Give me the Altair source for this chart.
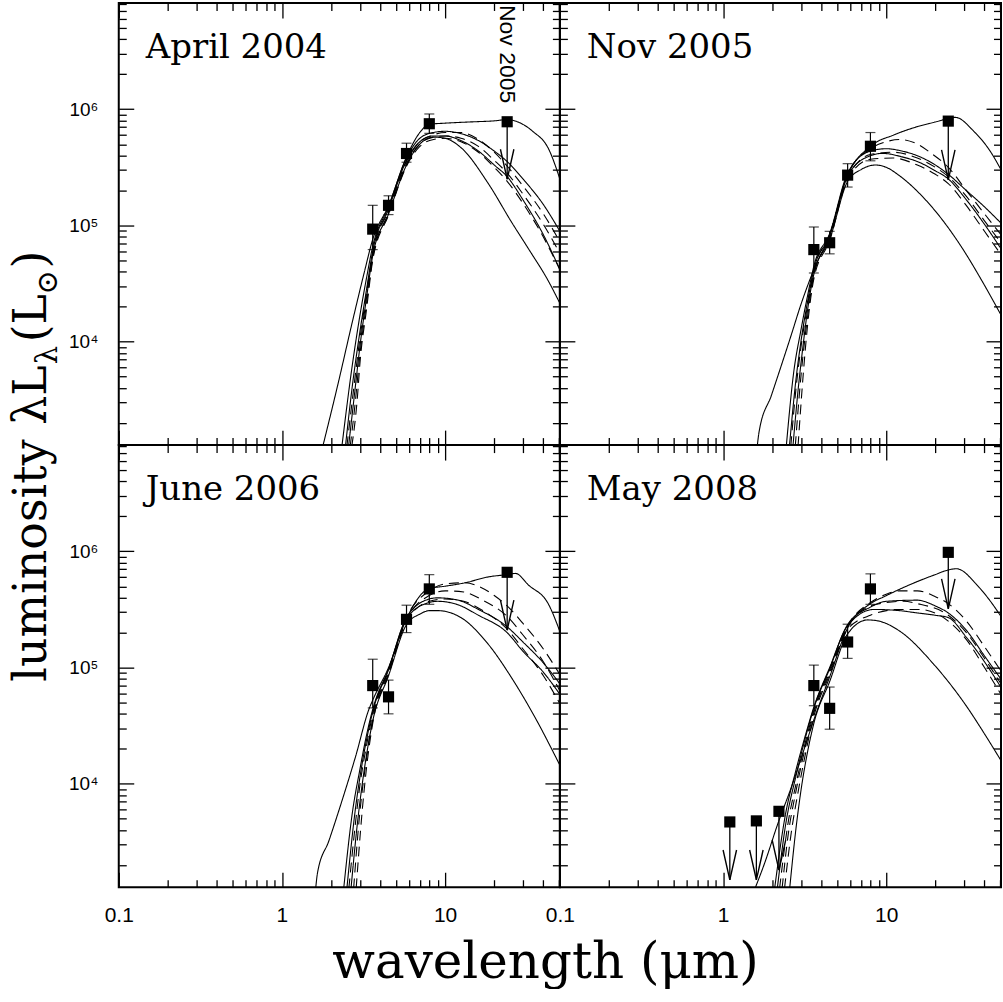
import altair as alt
import pandas as pd

# ---------------- layout ----------------
W, H = 442, 443
X_DOMAIN = [0.1, 50.5]
Y_DOMAIN = [1.29e3, 8.2e6]

PANELS = ["April 2004", "Nov 2005", "June 2006", "May 2008"]

# ---------------- photometry ----------------
IRAC_LAM = [3.6, 4.5, 5.8, 8.0]
DET_L = [
    [9.3e4, 1.49e5, 4.16e5, 7.5e5],
    [6.2e4, 7.1e4, 2.71e5, 4.8e5],
    [7.0e4, 5.6e4, 2.6e5, 4.75e5],
    [7.0e4, 4.46e4, 1.66e5, 4.75e5],
]
DET_LO = [
    [6.2e4, 1.24e5, 3.5e5, 6.2e5],
    [3.9e4, 5.7e4, 2.14e5, 3.6e5],
    [4.5e4, 4.0e4, 2.0e5, 3.5e5],
    [4.7e4, 2.95e4, 1.2e5, 3.5e5],
]
DET_HI = [
    [1.49e5, 1.8e5, 5.1e5, 9.1e5],
    [9.7e4, 8.9e4, 3.4e5, 6.3e5],
    [1.18e5, 7.8e4, 3.44e5, 6.3e5],
    [1.05e5, 6.8e4, 2.36e5, 6.4e5],
]
LIM_LAM = [[24.0], [24.0], [24.0], [1.1, 1.6, 2.2, 24.0]]
LIM_L = [[7.8e5], [7.9e5], [6.6e5], [4.7e3, 4.8e3, 5.8e3, 9.8e5]]
LIM_TIP = [[2.5e5], [2.47e5], [2.1e5], [1.49e3, 1.49e3, 1.81e3, 3.2e5]]

NOTE_TEXT = ["Nov 2005"]
NOTE_LAM = [24.0]

# y-axis title pieces (main text and subscripts)
YT_TEXT = ["luminosity λL", "λ", "(L", "⊙", ")"]
YT_SIZE = [46, 29, 46, 29, 46]
YT_X = [-73, -62, -73, -62, -73]
YT_Y = [680, 362, 340, 292, 266]

# ---------------- model curves: (style, wavelength, log10 L) ----------------
APR04 = {
    "A": ("solid", [1.78, 2.2, 2.7, 3.2, 3.6, 4.5, 5.8, 7.0, 8.0, 10, 14, 20, 24, 28, 34.4, 43, 50.5],
          [3.10, 3.63, 4.17, 4.60, 4.88, 5.17, 5.59, 5.80, 5.87, 5.88, 5.89, 5.90, 5.91, 5.89, 5.81, 5.66, 5.40]),
    "B": ("solid", [2.33, 2.7, 3.0, 3.3, 3.6, 4.5, 5.8, 7.0, 8.5, 10, 12.5, 16, 20, 24, 30, 40, 50.5],
          [3.10, 3.80, 4.22, 4.55, 4.82, 5.16, 5.58, 5.75, 5.80, 5.81, 5.79, 5.73, 5.64, 5.55, 5.40, 5.18, 4.95]),
    "C": ("solid", [2.45, 2.7, 3.0, 3.3, 3.6, 4.5, 5.8, 7.0, 8.5, 10, 12.5, 16, 20, 24, 30, 40, 50.5],
          [3.10, 3.62, 4.08, 4.45, 4.78, 5.14, 5.56, 5.72, 5.77, 5.77, 5.73, 5.64, 5.52, 5.42, 5.22, 4.92, 4.62]),
    "D": ("solid", [2.56, 2.8, 3.0, 3.3, 3.6, 4.5, 5.8, 7.0, 8.5, 10, 12.5, 18.4, 25.5, 32.4, 43, 50.5],
          [3.10, 3.58, 3.95, 4.38, 4.74, 5.10, 5.52, 5.70, 5.76, 5.75, 5.67, 5.36, 5.03, 4.80, 4.52, 4.33]),
    "E": ("dashed", [2.5, 2.7, 3.0, 3.3, 3.6, 4.5, 5.8, 7.0, 8.5, 10, 12.5, 16, 20, 24, 30, 40, 50.5],
          [3.10, 3.50, 4.02, 4.42, 4.76, 5.13, 5.55, 5.72, 5.78, 5.80, 5.80, 5.74, 5.63, 5.51, 5.34, 5.10, 4.86]),
    "F": ("dashed", [2.62, 2.8, 3.0, 3.3, 3.6, 4.5, 5.8, 7.0, 8.5, 10, 12.5, 16, 20, 24, 30, 40, 50.5],
          [3.10, 3.45, 3.88, 4.33, 4.72, 5.11, 5.53, 5.70, 5.76, 5.77, 5.75, 5.68, 5.56, 5.45, 5.27, 5.01, 4.76]),
    "G": ("dashed", [2.68, 2.9, 3.0, 3.3, 3.6, 4.5, 5.8, 7.0, 8.5, 10, 12.5, 16, 20, 24, 30, 40, 50.5],
          [3.10, 3.52, 3.80, 4.28, 4.70, 5.09, 5.51, 5.68, 5.74, 5.75, 5.72, 5.63, 5.50, 5.38, 5.19, 4.90, 4.62]),
}
NOV05 = {
    "A": ("solid", [1.62, 1.66, 1.98, 2.62, 3.0, 3.6, 4.5, 5.8, 8.0, 11.2, 15.5, 20, 24, 26.5, 34.4, 43.3, 50.5],
          [3.10, 3.22, 3.54, 4.06, 4.32, 4.62, 4.92, 5.43, 5.68, 5.78, 5.85, 5.89, 5.92, 5.93, 5.81, 5.64, 5.48]),
    "B": ("solid", [2.44, 2.7, 3.0, 3.3, 3.6, 4.5, 5.8, 8.0, 10, 12.5, 15.5, 20, 24, 31, 40, 50.5],
          [3.10, 3.72, 4.10, 4.40, 4.65, 4.93, 5.45, 5.64, 5.66, 5.64, 5.60, 5.52, 5.44, 5.30, 5.16, 5.02]),
    "C": ("solid", [2.55, 2.8, 3.0, 3.3, 3.6, 4.5, 5.8, 8.0, 9.5, 12.5, 15.5, 20, 24, 31, 40, 50.5],
          [3.10, 3.68, 4.00, 4.35, 4.62, 4.91, 5.43, 5.60, 5.62, 5.59, 5.55, 5.47, 5.40, 5.22, 5.01, 4.80]),
    "D": ("solid", [2.68, 2.9, 3.1, 3.3, 3.6, 4.5, 5.8, 7.0, 8.6, 10, 12, 16.9, 24, 30, 38, 50.5],
          [3.10, 3.62, 3.98, 4.28, 4.58, 4.88, 5.38, 5.48, 5.52, 5.50, 5.43, 5.24, 4.98, 4.78, 4.54, 4.23]),
    "E": ("dashed", [2.6, 2.8, 3.0, 3.3, 3.6, 4.5, 5.8, 8.0, 10, 12, 15.5, 18.9, 24, 31, 40, 50.5],
          [3.10, 3.60, 3.95, 4.32, 4.61, 4.92, 5.44, 5.66, 5.72, 5.74, 5.70, 5.62, 5.50, 5.30, 5.10, 4.92]),
    "F": ("dashed", [2.77, 3.0, 3.3, 3.6, 4.5, 5.8, 8.0, 11, 15.5, 20, 24, 31, 40, 50.5],
          [3.10, 3.70, 4.22, 4.57, 4.89, 5.41, 5.61, 5.63, 5.58, 5.50, 5.42, 5.25, 5.04, 4.85]),
    "G": ("dashed", [2.88, 3.1, 3.3, 3.6, 4.5, 5.8, 8.0, 11, 15.5, 20, 24, 31, 40, 50.5],
          [3.10, 3.72, 4.15, 4.54, 4.87, 5.40, 5.57, 5.58, 5.52, 5.44, 5.36, 5.17, 4.95, 4.75]),
}
JUN06 = {
    "A": ("solid", [1.61, 1.65, 1.94, 2.34, 2.82, 3.41, 3.6, 4.5, 5.8, 8.0, 10, 13.3, 18.4, 24, 27, 32.4, 43, 50.5],
          [3.10, 3.23, 3.51, 3.86, 4.23, 4.64, 4.72, 5.00, 5.42, 5.68, 5.70, 5.73, 5.78, 5.80, 5.81, 5.71, 5.545, 5.31]),
    "B": ("solid", [2.39, 2.7, 3.0, 3.3, 3.6, 4.5, 5.8, 8.0, 9, 12, 16, 24, 30, 40, 50.5],
          [3.10, 3.75, 4.12, 4.42, 4.64, 4.99, 5.43, 5.59, 5.60, 5.58, 5.50, 5.35, 5.22, 5.04, 4.86]),
    "C": ("solid", [2.5, 2.8, 3.0, 3.3, 3.6, 4.5, 5.8, 8.0, 9, 12, 16, 24, 30, 40, 50.5],
          [3.10, 3.75, 4.05, 4.38, 4.62, 4.98, 5.42, 5.56, 5.57, 5.54, 5.45, 5.30, 5.14, 4.96, 4.77]),
    "D": ("solid", [2.65, 2.9, 3.1, 3.3, 3.6, 4.5, 5.8, 7.0, 8.0, 9, 12.5, 18.4, 25.6, 35.6, 50.5],
          [3.10, 3.66, 3.99, 4.25, 4.54, 4.93, 5.37, 5.46, 5.49, 5.49, 5.43, 5.20, 4.91, 4.57, 4.16]),
    "E": ("dashed", [2.57, 2.8, 3.0, 3.3, 3.6, 4.5, 5.8, 8.0, 10, 13.3, 16, 20, 24, 30, 40, 50.5],
          [3.10, 3.62, 3.98, 4.33, 4.60, 4.97, 5.43, 5.66, 5.72, 5.73, 5.70, 5.62, 5.53, 5.38, 5.16, 4.94]),
    "F": ("dashed", [2.75, 3.0, 3.3, 3.6, 4.5, 5.8, 8.0, 10, 13, 17, 24, 30, 40, 50.5],
          [3.10, 3.75, 4.22, 4.56, 4.95, 5.41, 5.62, 5.66, 5.65, 5.58, 5.44, 5.28, 5.05, 4.80]),
    "G": ("dashed", [2.85, 3.1, 3.3, 3.6, 4.5, 5.8, 8.0, 10, 13, 17, 24, 30, 40, 50.5],
          [3.10, 3.76, 4.14, 4.52, 4.94, 5.40, 5.57, 5.59, 5.57, 5.49, 5.33, 5.16, 4.93, 4.69]),
}
MAY08 = {
    "A": ("solid", [1.57, 1.80, 2.17, 2.62, 3.16, 3.6, 4.5, 5.8, 8.0, 9.7, 15.5, 20, 24, 27, 36, 43, 50.5],
          [3.10, 3.32, 3.66, 3.97, 4.31, 4.55, 4.92, 5.34, 5.55, 5.61, 5.74, 5.80, 5.84, 5.85, 5.71, 5.58, 5.44]),
    "B": ("solid", [2.07, 2.4, 2.8, 3.2, 3.6, 4.5, 5.8, 8.4, 12, 15.5, 20, 24, 31, 40, 50.5],
          [3.10, 3.72, 4.12, 4.42, 4.66, 5.00, 5.36, 5.50, 5.49, 5.47, 5.45, 5.43, 5.26, 5.05, 4.83]),
    "C": ("solid", [2.15, 2.4, 2.8, 3.2, 3.6, 4.5, 5.8, 8.0, 10, 15.5, 20, 24, 31, 40, 50.5],
          [3.10, 3.62, 4.07, 4.40, 4.65, 4.99, 5.37, 5.52, 5.57, 5.58, 5.53, 5.47, 5.32, 5.10, 4.90]),
    "D": ("solid", [2.56, 2.8, 3.0, 3.3, 3.6, 4.5, 5.8, 7.7, 9, 12.2, 19.5, 31.3, 40, 50.5],
          [3.10, 3.62, 3.94, 4.28, 4.52, 4.88, 5.29, 5.41, 5.40, 5.31, 5.03, 4.66, 4.43, 4.20]),
    "E": ("dashed", [2.22, 2.5, 2.8, 3.2, 3.6, 4.5, 5.8, 8.0, 10, 12, 15.5, 20, 24, 31, 40, 50.5],
          [3.10, 3.66, 4.00, 4.36, 4.63, 4.98, 5.36, 5.56, 5.63, 5.66, 5.66, 5.61, 5.55, 5.40, 5.18, 4.97]),
    "F": ("dashed", [2.30, 2.5, 2.8, 3.2, 3.6, 4.5, 5.8, 8.0, 9.1, 12.8, 15.5, 24, 31, 40, 50.5],
          [3.10, 3.55, 3.94, 4.32, 4.61, 4.96, 5.35, 5.53, 5.55, 5.57, 5.55, 5.45, 5.30, 5.08, 4.86]),
    "G": ("dashed", [2.38, 2.6, 2.9, 3.2, 3.6, 4.5, 5.8, 8.0, 12, 16, 24, 31, 40, 50.5],
          [3.10, 3.55, 3.95, 4.26, 4.58, 4.94, 5.33, 5.45, 5.50, 5.50, 5.40, 5.24, 5.00, 4.77]),
}
CURVE_SETS = [APR04, NOV05, JUN06, MAY08]

# ---------------- ticks ----------------
X_MAJOR = [0.1, 1, 10]
X_MINOR = [0.2, 0.3, 0.4, 0.5, 0.6, 0.7, 0.8, 0.9, 2, 3, 4, 5, 6, 7, 8, 9, 20, 30, 40, 50]
Y_MAJOR = [1e4, 1e5, 1e6]
Y_MINOR = [2e3, 3e3, 4e3, 5e3, 6e3, 7e3, 8e3, 9e3,
           2e4, 3e4, 4e4, 5e4, 6e4, 7e4, 8e4, 9e4,
           2e5, 3e5, 4e5, 5e5, 6e5, 7e5, 8e5, 9e5,
           2e6, 3e6, 4e6, 5e6, 6e6, 7e6, 8e6]

ARROW_PATH = "M -0.45 -2 L 0 0 L 0.45 -2"
SERIF = "DejaVu Serif"
SANS = "Liberation Sans"

# ---------------- build tables ----------------
crow = []
for pname, cset in zip(PANELS, CURVE_SETS):
    for cname, (style, lams, logls) in cset.items():
        for lam, lg in zip(lams, logls):
            crow.append({"panel": pname, "curve": cname, "style": style, "lam": lam, "L": 10 ** lg})
curves_df = pd.DataFrame(crow)


def panel(i, xlabels, ylabels, xtitle, ytitle):
    pname = PANELS[i]
    xs = alt.Scale(type="log", domain=X_DOMAIN, nice=False)
    ys = alt.Scale(type="log", domain=Y_DOMAIN, nice=False)
    X = lambda f="lam:Q", ax=None: alt.X(f, scale=xs, axis=ax)

    cdf = curves_df[curves_df.panel == pname]
    ddf = pd.DataFrame({"lam": IRAC_LAM, "L": DET_L[i], "lo": DET_LO[i], "hi": DET_HI[i]})
    capdf = pd.DataFrame({"lam": IRAC_LAM * 2, "v": DET_LO[i] + DET_HI[i]})
    ldf = pd.DataFrame({"lam": LIM_LAM[i], "L": LIM_L[i], "tip": LIM_TIP[i]})

    lines = alt.Chart(cdf).mark_line(clip=True, color="black", strokeWidth=1.1, interpolate="monotone").encode(
        x=X(), y=alt.Y("L:Q", scale=ys, axis=None), detail="curve:N",
        strokeDash=alt.StrokeDash("style:N", scale=alt.Scale(domain=["solid", "dashed"], range=[[1, 0], [10, 6]]),
                                  legend=None))
    err = alt.Chart(ddf).mark_rule(color="black", strokeWidth=1.2).encode(
        x=X(), y=alt.Y("lo:Q", scale=ys, axis=None), y2="hi:Q")
    caps = alt.Chart(capdf).mark_tick(orient="horizontal", size=10, thickness=1.2, color="black").encode(
        x=X(), y=alt.Y("v:Q", scale=ys, axis=None))
    sq = alt.Chart(ddf).mark_square(size=125, color="black", opacity=1).encode(
        x=X(), y=alt.Y("L:Q", scale=ys, axis=None))
    lsq = alt.Chart(ldf).mark_square(size=125, color="black", opacity=1).encode(
        x=X(), y=alt.Y("L:Q", scale=ys, axis=None))
    lrule = alt.Chart(ldf).mark_rule(color="black", strokeWidth=1.3).encode(
        x=X(), y=alt.Y("L:Q", scale=ys, axis=None), y2="tip:Q")
    heads = alt.Chart(ldf).mark_point(shape=ARROW_PATH, size=900, filled=False, color="black",
                                      strokeWidth=1.4, opacity=1).encode(
        x=X(), y=alt.Y("tip:Q", scale=ys, axis=None))
    label = alt.Chart(pd.DataFrame({"t": [pname]})).mark_text(
        align="left", baseline="alphabetic", font=SERIF, fontSize=34, color="black").encode(
        x=alt.value(27), y=alt.value(55), text="t:N")

    layers = [lines, err, caps, sq, lrule, heads, lsq, label]

    if i == 0:
        note = alt.Chart(pd.DataFrame({"lam": NOTE_LAM, "t": NOTE_TEXT})).mark_text(
            angle=90, align="left", baseline="middle", font=SANS, fontSize=23, color="black").encode(
            x=X(), y=alt.value(2), text="t:N")
        layers.append(note)

    if ytitle:
        for txt, fs, tx, ty in zip(YT_TEXT, YT_SIZE, YT_X, YT_Y):
            layers.append(alt.Chart(pd.DataFrame({"t": [txt]})).mark_text(
                angle=270, align="left", baseline="alphabetic", font=SERIF, fontSize=fs,
                color="black").encode(x=alt.value(tx), y=alt.value(ty), text="t:N"))

    def tick_axis(orient, vals, size, off):
        return alt.Axis(orient=orient, offset=off, values=vals, tickSize=size, tickWidth=1.3,
                        tickColor="black", labels=False, domain=False, grid=False, title=None)

    def ax_layer(xa, ya):
        return alt.Chart(ddf).mark_point(opacity=0, size=1).encode(
            x=alt.X("lam:Q", scale=xs, axis=xa), y=alt.Y("L:Q", scale=ys, axis=ya))

    layers += [
        ax_layer(tick_axis("top", X_MAJOR, 15, -H), tick_axis("right", Y_MAJOR, 15, -W)),
        ax_layer(tick_axis("top", X_MINOR, 7.5, -H), tick_axis("right", Y_MINOR, 7.5, -W)),
        ax_layer(tick_axis("bottom", X_MAJOR, 15, -H), tick_axis("left", Y_MAJOR, 15, -W)),
        ax_layer(tick_axis("bottom", X_MINOR, 7.5, -H), tick_axis("left", Y_MINOR, 7.5, -W)),
    ]

    if xlabels or ylabels:
        xa = None
        ya = None
        if xlabels:
            kw = dict(orient="bottom", values=X_MAJOR, format="~g", ticks=False, tickSize=0, domain=False,
                      grid=False, labelPadding=17, labelFont=SANS, labelFontSize=21, labelColor="black",
                      labelFlush=False, labelOverlap=False)
            if xtitle:
                kw.update(title="wavelength (μm)", titleFont=SERIF, titleFontSize=50, titleFontWeight="normal",
                          titleColor="black", titleX=427, titleY=90, titleAlign="center",
                          titleBaseline="alphabetic", titleAngle=0)
            else:
                kw.update(title=None)
            xa = alt.Axis(**kw)
        if ylabels:
            ya = alt.Axis(orient="left", values=Y_MAJOR, ticks=False, tickSize=0, domain=False, grid=False,
                          labelPadding=21, labelFont=SANS, labelFontSize=19, labelColor="black",
                          labelBaseline="middle", labelFlush=False, labelOverlap=False, title=None,
                          labelExpr="datum.value >= 5e5 ? '10⁶' : (datum.value >= 5e4 ? '10⁵' : '10⁴')")
        layers.append(ax_layer(xa, ya))

    return alt.layer(*layers).resolve_axis(x="independent", y="independent").properties(width=W, height=H)


p0 = panel(0, False, True, False, True)
p1 = panel(1, False, False, False, False)
p2 = panel(2, True, True, True, False)
p3 = panel(3, True, False, False, False)

chart = alt.concat(p0, p1, p2, p3, columns=2, spacing=0, bounds="flush").properties(
    padding={"left": 8, "top": 0, "right": 0, "bottom": 0},
    background="white",
).configure_view(stroke="black", strokeWidth=2)

chart.save("out.html", embed_options={"renderer": "svg", "actions": False})
